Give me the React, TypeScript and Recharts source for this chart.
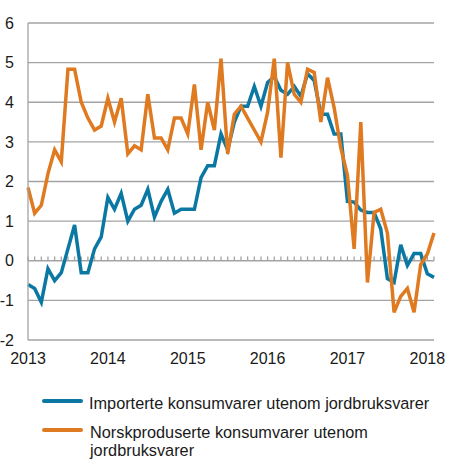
import React from 'react'
import { LineChart, Line, XAxis, YAxis, CartesianGrid, ReferenceLine } from 'recharts'

// Monthly, Jan 2013 – Feb 2018 (index 0..61)
const importerte = [
  -0.6, -0.7, -1.05, -0.2, -0.5, -0.3, 0.3, 0.9, -0.3, -0.3, 0.3, 0.6,
  1.6, 1.3, 1.7, 1.0, 1.3, 1.4, 1.8, 1.1, 1.5, 1.8, 1.2, 1.3,
  1.3, 1.3, 2.1, 2.4, 2.4, 3.2, 2.8, 3.5, 3.9, 3.9, 4.4, 3.9,
  4.5, 4.65, 4.3, 4.2, 4.4, 4.15, 4.72, 4.55, 3.7, 3.7, 3.2, 3.2,
  1.5, 1.48, 1.28, 1.22, 1.22, 0.8, -0.45, -0.55, 0.4, -0.12, 0.18, 0.18,
  -0.33, -0.42,
]

const norskproduserte = [
  1.85, 1.2, 1.4, 2.2, 2.8, 2.5, 4.83, 4.83, 4.0, 3.6, 3.3, 3.4,
  4.1, 3.5, 4.1, 2.7, 2.9, 2.8, 4.2, 3.1, 3.1, 2.8, 3.6, 3.6,
  3.2, 4.45, 2.8, 4.0, 3.3, 5.1, 2.7, 3.7, 3.9, 3.6, 3.3, 3.0,
  3.75, 5.1, 2.6, 5.0, 4.2, 4.0, 4.83, 4.75, 3.5, 4.62, 3.86, 2.85,
  2.15, 0.3, 3.5, -0.55, 1.22, 1.3, 0.7, -1.3, -0.9, -0.7, -1.3, -0.1,
  0.17, 0.7,
]

const yearTicks = [0, 12, 24, 36, 48, 60]
const yearLabels = ['2013', '2014', '2015', '2016', '2017', '2018']
const yTicks = [-2, -1, 0, 1, 2, 3, 4, 5, 6]

const seriesNames = [
  'Importerte konsumvarer utenom jordbruksvarer',
  'Norskproduserte konsumvarer utenom jordbruksvarer',
]

const BLUE = '#0a78a2'
const ORANGE = '#e07a20'
const GRID = '#a3a3a3'
const TEXT = '#1a1a1a'

const data = importerte.map((v, i) => ({ i, imp: v, norsk: norskproduserte[i] }))

export default function App() {
  return (
    <div
      style={{
        position: 'absolute',
        left: 0,
        top: 0,
        width: 450,
        height: 474,
        background: 'white',
        fontFamily: '"Liberation Sans", Arial, sans-serif',
      }}
    >
      <LineChart width={450} height={370} data={data} margin={{ top: 23, right: 16, bottom: 0, left: 0 }}>
        <CartesianGrid vertical={false} stroke={GRID} strokeWidth={1.3} />
        <XAxis
          dataKey="i"
          type="number"
          domain={[0, 61]}
          ticks={yearTicks}
          tickFormatter={(v) => yearLabels[yearTicks.indexOf(v)] ?? ''}
          axisLine={false}
          tickLine={false}
          tickSize={6}
          tickMargin={7}
          height={30}
          tick={{ fontSize: 16, fill: TEXT }}
          interval={0}
        />
        <YAxis
          type="number"
          domain={[-2, 6]}
          ticks={yTicks}
          width={28}
          axisLine={{ stroke: GRID, strokeWidth: 1.3 }}
          tickLine={false}
          tickSize={6}
          tickMargin={8}
          tick={{ fontSize: 16, fill: TEXT }}
          interval={0}
        />
        {data.map((d) => (
          <ReferenceLine
            key={`mt-${d.i}`}
            segment={[
              { x: d.i, y: 0 },
              { x: d.i, y: 0.11 },
            ]}
            stroke={GRID}
            strokeWidth={1.3}
          />
        ))}
        <Line
          type="linear"
          dataKey="imp"
          stroke={BLUE}
          strokeWidth={3.5}
          dot={false}
          isAnimationActive={false}
        />
        <Line
          type="linear"
          dataKey="norsk"
          stroke={ORANGE}
          strokeWidth={3.5}
          dot={false}
          isAnimationActive={false}
        />
      </LineChart>

      <div style={{ position: 'absolute', left: 42, top: 399, width: 41, height: 4, background: BLUE, borderRadius: 2 }} />
      <div style={{ position: 'absolute', left: 89, top: 394, fontSize: 16.3, lineHeight: '18px', color: TEXT }}>
        {seriesNames[0]}
      </div>
      <div style={{ position: 'absolute', left: 42, top: 428, width: 41, height: 4, background: ORANGE, borderRadius: 2 }} />
      <div
        style={{ position: 'absolute', left: 90, top: 423, width: 330, fontSize: 16.3, lineHeight: '18px', color: TEXT }}
      >
        {seriesNames[1]}
      </div>
    </div>
  )
}
